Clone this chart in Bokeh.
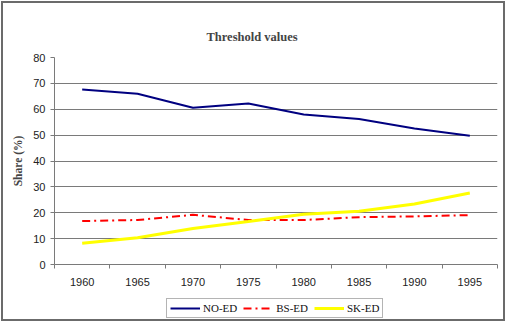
from bokeh.plotting import figure
from bokeh.layouts import column
from bokeh.models import FixedTicker, Legend, LegendItem, Range1d
from bokeh.embed import file_html
from bokeh.resources import INLINE

# Threshold shares (%) by year
years = ["1960", "1965", "1970", "1975", "1980", "1985", "1990", "1995"]
no_ed = [67.6, 66.0, 60.6, 62.2, 58.0, 56.2, 52.6, 49.8]
bs_ed = [16.8, 17.2, 19.2, 17.2, 17.2, 18.3, 18.6, 19.1]
sk_ed = [8.2, 10.3, 13.9, 16.6, 19.4, 20.6, 23.4, 27.6]
y_ticks = [0, 10, 20, 30, 40, 50, 60, 70, 80]

series = [("NO-ED", no_ed, dict(line_color="#000080", line_width=2)),
          ("BS-ED", bs_ed, dict(line_color="#ff0000", line_width=2, line_dash="8 4 2 4")),
          ("SK-ED", sk_ed, dict(line_color="#ffff00", line_width=3))]

n = len(years)
xs = [i + 0.5 for i in range(n)]

SERIF = "Liberation Serif"
SANS = "Liberation Sans"
GRID = "#7a7a7a"

p = figure(width=500, height=291, output_backend="svg", toolbar_location=None,
           x_range=Range1d(0, n), y_range=Range1d(0, 80),
           min_border_left=51, min_border_right=6, min_border_top=54, min_border_bottom=30)
p.outline_line_color = None
p.background_fill_color = "white"

p.title.text = "Threshold values"
p.title.text_font = SERIF
p.title.text_font_size = "12.5px"
p.title.text_font_style = "bold"
p.title.align = "left"
p.title.offset = 152
p.title.standoff = 28

# x axis: labels at category centres, tick marks at category boundaries
p.xaxis.ticker = FixedTicker(ticks=xs, minor_ticks=list(range(n + 1)))
p.xaxis.major_label_overrides = {x: y for x, y in zip(xs, years)}
p.xaxis.major_tick_out = 0
p.xaxis.major_tick_in = 0
p.xaxis.minor_tick_out = 4
p.xaxis.minor_tick_in = 0
p.xaxis.minor_tick_line_color = GRID
p.xaxis.axis_line_color = GRID
p.xaxis.major_label_text_font = SANS
p.xaxis.major_label_text_font_size = "11px"
p.xaxis.major_label_text_color = "#222222"
p.xaxis.major_label_standoff = 9

p.yaxis.ticker = FixedTicker(ticks=y_ticks)
p.yaxis.minor_tick_line_color = None
p.yaxis.major_tick_out = 4
p.yaxis.major_tick_in = 0
p.yaxis.major_tick_line_color = GRID
p.yaxis.axis_line_color = GRID
p.yaxis.major_label_text_font = SANS
p.yaxis.major_label_text_font_size = "11px"
p.yaxis.major_label_text_color = "#222222"
p.yaxis.major_label_standoff = 5
p.yaxis.axis_label = "Share (%)"
p.yaxis.axis_label_text_font = SERIF
p.yaxis.axis_label_text_font_size = "11.5px"
p.yaxis.axis_label_text_font_style = "bold"
p.yaxis.axis_label_standoff = 6

p.xgrid.grid_line_color = None
p.ygrid.ticker = FixedTicker(ticks=y_ticks)
p.ygrid.grid_line_color = GRID
p.ygrid.grid_line_width = 1

for name, vals, style in series:
    p.line(xs, vals, **style)

# Legend strip below the chart; its sample lines sit outside the strip's visible range
leg = figure(width=500, height=25, output_backend="svg", toolbar_location=None,
             x_range=Range1d(-100, -99), y_range=Range1d(0, 1),
             min_border_left=51, min_border_right=6, min_border_top=0, min_border_bottom=0)
leg.axis.visible = False
leg.grid.visible = False
leg.outline_line_color = None

items = []
for name, vals, style in series:
    r = leg.line(xs, vals, **style)
    items.append(LegendItem(label=name, renderers=[r]))

legend = Legend(items=items, orientation="horizontal", location=(112, 1))
legend.label_text_font = SERIF
legend.label_text_font_size = "11px"
legend.label_text_color = "#111111"
legend.border_line_color = "#6a6a6a"
legend.border_line_width = 1
legend.glyph_width = 30
legend.glyph_height = 12
legend.label_standoff = 3
legend.spacing = 6
legend.padding = 3
legend.margin = 0
legend.label_height = 12
leg.add_layout(legend)

layout = column(p, leg, spacing=0)
layout.styles = {"border": "2px solid #6b6b6b", "margin": "1px 0 0 1px"}

open("out.html", "w").write(file_html(layout, INLINE))
